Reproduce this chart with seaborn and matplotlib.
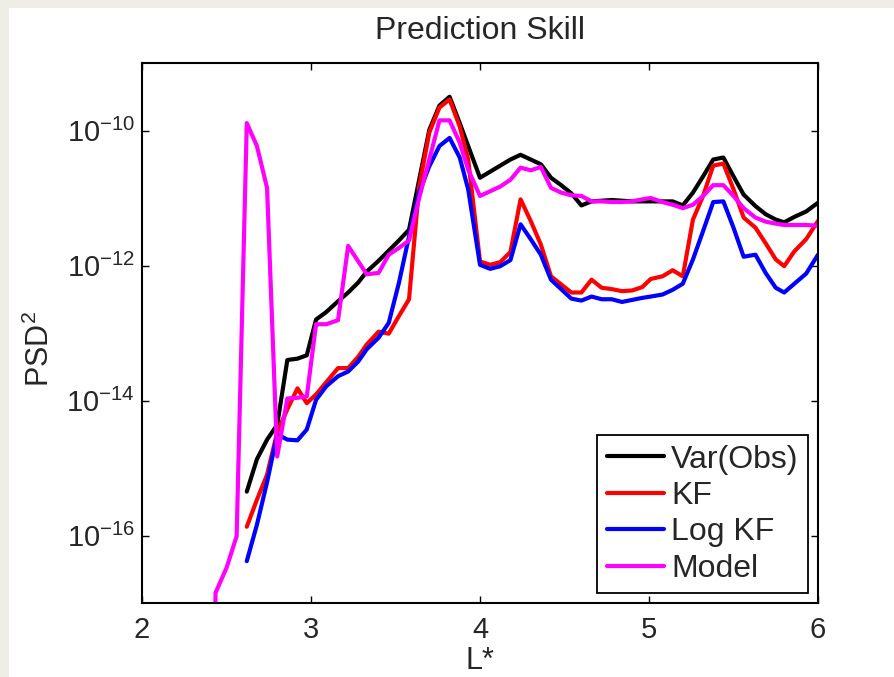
import numpy as np
import pandas as pd
import matplotlib
matplotlib.use("Agg")
import matplotlib.pyplot as plt
import seaborn as sns
from matplotlib.patches import Rectangle
from matplotlib.ticker import FixedLocator, NullLocator

# ---------------- data ----------------
L_star = [2.62, 2.68, 2.74, 2.80, 2.86, 2.92, 2.975, 3.03, 3.09, 3.16,
          3.22, 3.28, 3.33, 3.40, 3.46, 3.52, 3.58, 3.64, 3.70, 3.76,
          3.82, 3.88, 3.93, 4.00, 4.06, 4.12, 4.18, 4.24, 4.30, 4.36,
          4.42, 4.48, 4.54, 4.60, 4.66, 4.72, 4.78, 4.84, 4.90, 4.96,
          5.01, 5.08, 5.14, 5.20, 5.26, 5.32, 5.38, 5.44, 5.50, 5.56,
          5.63, 5.69, 5.75, 5.80, 5.86, 5.93, 6.00]

# log10(PSD^2)
var_obs_log10 = [-15.35, -14.87, -14.58, -14.36, -13.40, -13.38, -13.33, -12.80, -12.69, -12.53,
                 -12.40, -12.25, -12.09, -11.93, -11.78, -11.63, -11.47, -10.73, -9.99, -9.63,
                 -9.50, -9.89, -10.23, -10.70, -10.61, -10.52, -10.43, -10.36, -10.43, -10.50,
                 -10.70, -10.81, -10.93, -11.11, -11.05, -11.04, -11.03, -11.04, -11.05, -11.05,
                 -11.05, -11.05, -11.05, -11.11, -10.92, -10.68, -10.43, -10.40, -10.68, -10.95,
                 -11.12, -11.24, -11.32, -11.36, -11.28, -11.20, -11.07]

kf_log10 = [-15.87, -15.47, -15.10, -14.47, -14.13, -13.82, -14.04, -13.91, -13.73, -13.52,
            -13.52, -13.35, -13.17, -12.98, -13.01, -12.75, -12.50, -10.83, -10.03, -9.66,
            -9.54, -9.94, -10.43, -11.94, -11.99, -11.95, -11.80, -11.02, -11.34, -11.69,
            -12.16, -12.28, -12.40, -12.40, -12.21, -12.33, -12.35, -12.38, -12.37, -12.32,
            -12.20, -12.16, -12.07, -12.16, -11.32, -10.97, -10.52, -10.49, -10.87, -11.29,
            -11.44, -11.67, -11.91, -12.01, -11.79, -11.61, -11.34]

log_kf_log10 = [-16.38, -15.84, -15.21, -14.50, -14.58, -14.59, -14.43, -13.99, -13.79, -13.64,
                -13.57, -13.42, -13.24, -13.07, -12.85, -12.26, -11.57, -10.92, -10.53, -10.23,
                -10.11, -10.40, -10.87, -11.99, -12.05, -12.01, -11.92, -11.39, -11.61, -11.84,
                -12.21, -12.35, -12.49, -12.52, -12.46, -12.50, -12.50, -12.54, -12.51, -12.48,
                -12.46, -12.43, -12.36, -12.27, -11.91, -11.49, -11.06, -11.05, -11.44, -11.87,
                -11.84, -12.11, -12.33, -12.40, -12.27, -12.12, -11.84]

model_L = [2.43, 2.435, 2.50, 2.56] + L_star
model_log10 = [-18.0, -16.85, -16.48, -16.01,
               -9.89, -10.23, -10.85, -14.83, -13.97, -13.96, -13.94, -12.87, -12.87, -12.81,
               -11.71, -11.94, -12.13, -12.11, -11.84, -11.74, -11.63, -11.00, -10.43, -9.85,
               -9.85, -10.18, -10.58, -10.97, -10.90, -10.83, -10.73, -10.55, -10.59, -10.54,
               -10.85, -10.92, -10.96, -10.97, -11.05, -11.05, -11.06, -11.06, -11.05, -11.02,
               -11.00, -11.06, -11.10, -11.15, -11.10, -10.97, -10.81, -10.81, -10.97, -11.15,
               -11.29, -11.35, -11.38, -11.40, -11.40, -11.40, -11.41]

series_names = ["Var(Obs)", "KF", "Log KF", "Model"]
series_colors = ["#000000", "#ff0000", "#0000ff", "#ff00ff"]
x_ticks = [2, 3, 4, 5, 6]
y_ticks = [1e-16, 1e-14, 1e-12, 1e-10]

# ---------------- style ----------------
sns.set_style("ticks")
plt.rcParams["font.family"] = ["Liberation Sans", "DejaVu Sans"]
plt.rcParams["mathtext.fontset"] = "custom"
plt.rcParams["mathtext.rm"] = "Liberation Sans"
plt.rcParams["mathtext.it"] = "Liberation Sans:italic"
plt.rcParams["mathtext.bf"] = "Liberation Sans:bold"

FS_TICK = 21
FS_BIG = 23

fig = plt.figure(figsize=(8.95, 6.77), dpi=100, facecolor="white")
# beige window border (top and left strips)
fig.patches.append(Rectangle((0, 1 - 8 / 677), 1, 8 / 677, transform=fig.transFigure,
                             facecolor="#eeede6", edgecolor="none", zorder=0))
fig.patches.append(Rectangle((0, 0), 9 / 895, 1, transform=fig.transFigure,
                             facecolor="#eeede6", edgecolor="none", zorder=0))

ax = fig.add_axes([142 / 895, (677 - 603) / 677, (818 - 142) / 895, (603 - 63) / 677])
ax.set_facecolor("white")

frames = [
    pd.DataFrame({"L": L_star, "psd": np.power(10.0, var_obs_log10)}),
    pd.DataFrame({"L": L_star, "psd": np.power(10.0, kf_log10)}),
    pd.DataFrame({"L": L_star, "psd": np.power(10.0, log_kf_log10)}),
    pd.DataFrame({"L": model_L, "psd": np.power(10.0, model_log10)}),
]
for df, name, col in zip(frames, series_names, series_colors):
    sns.lineplot(data=df, x="L", y="psd", ax=ax, color=col, linewidth=3.0,
                 label=name, sort=False, estimator=None)

ax.set_yscale("log")
ax.set_xlim(2, 6)
ax.set_ylim(1e-17, 1e-9)
ax.xaxis.set_major_locator(FixedLocator(x_ticks))
ax.set_xticklabels([str(t) for t in x_ticks])
ax.yaxis.set_major_locator(FixedLocator(y_ticks))
ax.yaxis.set_minor_locator(NullLocator())
ax.xaxis.set_minor_locator(NullLocator())

for s in ax.spines.values():
    s.set_visible(True)
    s.set_linewidth(1.5)
    s.set_color("black")
ax.tick_params(which="major", direction="in", length=5, width=1.0, color="black",
               top=True, right=True, labelsize=FS_TICK, pad=9)
ax.tick_params(axis="y", pad=5)

ax.set_xlabel("L*", fontsize=22, labelpad=2)
ax.set_ylabel("PSD$^2$", fontsize=22)
ax.yaxis.set_label_coords(-0.127, 0.47)
ax.set_title("Prediction Skill", fontsize=FS_BIG, pad=17)

leg = ax.legend(loc="lower right", fontsize=FS_BIG, frameon=True, fancybox=False,
                edgecolor="black", framealpha=1, handlelength=1.8, handletextpad=0.22,
                labelspacing=0.2, borderpad=0.3, borderaxespad=0.3)
leg.get_frame().set_linewidth(1.3)
for line in leg.get_lines():
    line.set_linewidth(3.0)

fig.savefig("out.png", dpi=100, facecolor=fig.get_facecolor())
